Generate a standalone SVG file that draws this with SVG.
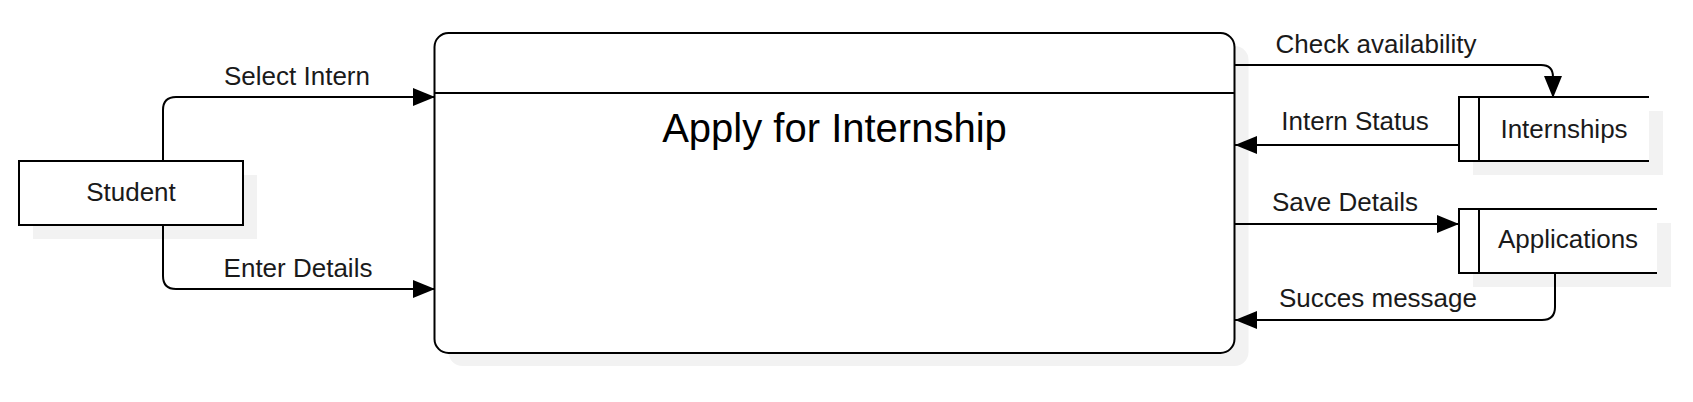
<svg xmlns="http://www.w3.org/2000/svg" width="1693" height="402" viewBox="0 0 1693 402">
<defs>
<style>
.shadow{fill:#f2f2f2;stroke:none}
.box{fill:#ffffff;stroke:#000000;stroke-width:2}
.fillw{fill:#ffffff;stroke:none}
.ln{fill:none;stroke:#000000;stroke-width:2}
.conn{fill:none;stroke:#000000;stroke-width:2;marker-end:url(#arr)}
text{font-family:"Liberation Sans",Arial,sans-serif;font-size:26px;fill:#1a1a1a;text-anchor:middle}
.title{font-size:40px;fill:#000000}
</style>
<marker id="arr" markerUnits="userSpaceOnUse" markerWidth="24" markerHeight="20" refX="22" refY="9" orient="auto">
<path d="M0,0 L22,9 L0,18 Z" fill="#000000"/>
</marker>
</defs>
<rect width="1693" height="402" fill="#ffffff"/>

<g id="student">
<rect class="shadow" x="33" y="175" width="224" height="64"/>
<rect class="box" x="19" y="161" width="224" height="64"/>
<text x="131" y="201">Student</text>
</g>

<g id="apply">
<rect class="shadow" x="448.5" y="46" width="800" height="320" rx="14" ry="14"/>
<rect class="box" x="434.5" y="33" width="800" height="320" rx="14" ry="14"/>
<line class="ln" x1="434.5" y1="93" x2="1234.5" y2="93"/>
<text class="title" x="834.5" y="142">Apply for Internship</text>
</g>

<g id="internships">
<rect class="shadow" x="1473" y="111" width="190" height="64"/>
<rect class="fillw" x="1459" y="97" width="190" height="64"/>
<path class="ln" d="M1649,97 H1459 V161 H1649 M1479,97 V161"/>
<text x="1564" y="138">Internships</text>
</g>

<g id="applications">
<rect class="shadow" x="1473" y="223" width="198" height="64"/>
<rect class="fillw" x="1459" y="209" width="198" height="64"/>
<path class="ln" d="M1657,209 H1459 V273 H1657 M1479,209 V273"/>
<text x="1568" y="248">Applications</text>
</g>

<g id="connectors">
<path class="conn" d="M163,161 V110 Q163,97 176,97 H435"/>
<path class="conn" d="M163,225 V276 Q163,289 176,289 H435"/>
<path class="conn" d="M1235,65 H1541 Q1553,65 1553,77 V98"/>
<path class="conn" d="M1459,145 H1235"/>
<path class="conn" d="M1235,224 H1459"/>
<path class="conn" d="M1555,273 V307 Q1555,320 1542,320 H1235"/>
<text x="297" y="85">Select Intern</text>
<text x="298" y="277">Enter Details</text>
<text x="1376" y="53">Check availability</text>
<text x="1355" y="130">Intern Status</text>
<text x="1345" y="211">Save Details</text>
<text x="1378" y="307">Succes message</text>
</g>
</svg>
